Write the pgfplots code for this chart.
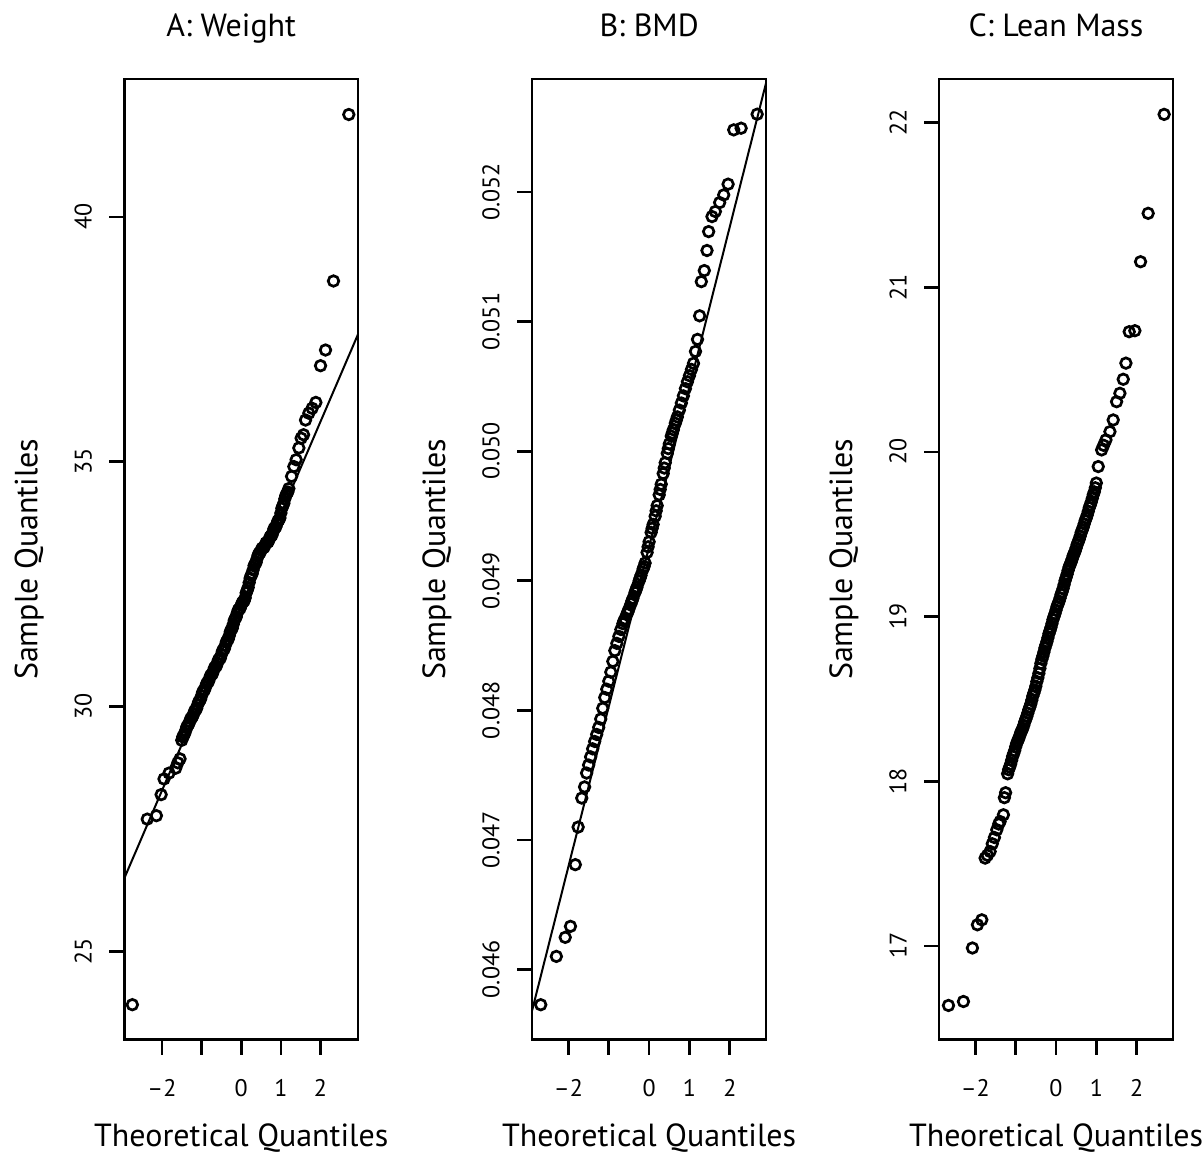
\documentclass[border=0pt]{standalone}
\usepackage{fontspec}
\setmainfont{PT Sans}
\usepackage{pgfplots}
\pgfplotsset{compat=1.18}
\pgfplotsset{qq/.style={
  scale only axis, width=117pt, height=480.5pt,
  axis line style={line width=1.3pt},
  every tick/.style={black, line width=1.3pt},
  major tick length=7.5pt, tick align=outside, tick pos=left,
  scaled y ticks=false, scaled x ticks=false,
  xtick={-2,-1,0,1,2}, xticklabels={–2,{},0,1,2},
  ticklabel style={font=\fontsize{12}{14}\selectfont, inner sep=0pt},
  xticklabel style={anchor=north},
  yticklabel style={rotate=90, anchor=south},
  xticklabel shift=12pt, yticklabel shift=8.5pt,
  label style={font=\fontsize{16}{19}\selectfont, inner sep=0pt},
  xlabel={Theoretical Quantiles}, ylabel={Sample Quantiles},
  xlabel style={at={(axis description cs:0.5,-0.1113)}, anchor=base},
  ylabel style={at={(axis description cs:-0.3718,0.5)}, anchor=base},
  title style={at={(axis description cs:0.5,1.0322)}, anchor=base, yshift=0pt, inner sep=0pt, font=\fontsize{16}{19}\selectfont},
  /pgf/number format/assume math mode=true,
  pts/.style={only marks, mark=o, mark size=2.65pt, mark options={line width=1.35pt, black}},
}}
\begin{document}
\begin{tikzpicture}
% ---------------- A: Weight
\begin{axis}[qq, at={(0pt,0pt)}, anchor=south west,
  xmin=-2.95, xmax=2.95, ymin=23.195, ymax=42.816,
  ytick={25,30,35,40}, yticklabels={25,30,35,40},
  title={A: Weight}, title style={at={(axis description cs:0.457,1.0322)}}]
\addplot[pts] coordinates {
(-2.746,23.91)(-2.37,27.70)(-2.14,27.77)(-2.02,28.20)(-1.947,28.52)(-1.821,28.64)(-1.652,28.74)(-1.60,28.85)(-1.544,28.93)
(-1.50,29.31)(-1.45,29.41)(-1.40,29.51)(-1.35,29.61)(-1.30,29.69)(-1.25,29.77)(-1.20,29.85)(-1.15,29.93)(-1.10,30.03)(-1.05,30.12)
(-1.00,30.22)(-0.95,30.32)(-0.90,30.40)(-0.85,30.49)(-0.80,30.57)(-0.75,30.65)(-0.70,30.73)(-0.65,30.81)(-0.60,30.89)(-0.55,30.97)
(-0.50,31.06)(-0.45,31.16)(-0.40,31.25)(-0.35,31.35)(-0.30,31.45)(-0.25,31.57)(-0.20,31.68)(-0.15,31.80)(-0.10,31.91)(-0.05,31.99)
(0.00,32.07)(0.05,32.14)(0.10,32.22)(0.15,32.37)(0.20,32.53)(0.25,32.68)(0.30,32.79)(0.35,32.91)(0.40,33.02)(0.45,33.13)
(0.50,33.19)(0.55,33.24)(0.60,33.29)(0.65,33.35)(0.70,33.40)(0.75,33.48)(0.80,33.56)(0.85,33.65)(0.90,33.73)(0.95,33.81)
(1.00,33.95)(1.05,34.10)(1.10,34.24)(1.15,34.35)(1.20,34.45)
(1.27,34.70)(1.327,34.90)(1.385,35.04)(1.453,35.28)(1.511,35.48)(1.572,35.55)(1.622,35.85)(1.705,35.99)(1.788,36.09)(1.882,36.21)
(2.00,36.96)(2.126,37.28)(2.327,38.69)(2.713,42.09)
};
\addplot[pts] coordinates {
(-1.475,29.38)(-1.425,29.45)(-1.375,29.58)(-1.325,29.64)(-1.275,29.75)(-1.225,29.80)(-1.175,29.91)(-1.125,29.96)(-1.075,30.09)
(-1.025,30.15)(-0.975,30.29)(-0.925,30.34)(-0.875,30.46)(-0.825,30.51)(-0.775,30.63)(-0.725,30.67)(-0.675,30.79)(-0.625,30.83)
(-0.575,30.95)(-0.525,30.99)(-0.475,31.13)(-0.425,31.18)(-0.375,31.32)(-0.325,31.38)(-0.275,31.53)(-0.225,31.60)(-0.175,31.76)
(-0.125,31.83)(-0.075,31.97)(-0.025,32.01)(0.025,32.12)(0.075,32.16)(0.125,32.32)(0.175,32.43)(0.225,32.62)(0.275,32.71)
(0.325,32.88)(0.375,32.94)(0.425,33.09)(0.475,33.14)(0.525,33.23)(0.575,33.25)(0.625,33.34)(0.675,33.36)(0.725,33.46)
(0.775,33.50)(0.825,33.63)(0.875,33.67)(0.925,33.79)(0.975,33.85)(1.025,34.05)(1.075,34.15)(1.125,34.31)(1.175,34.38)
};
\addplot[black, line width=1pt, no marks] coordinates {(-2.95,26.49)(2.95,37.61)};
\end{axis}
% ---------------- B: BMD
\begin{axis}[qq, at={(204pt,0pt)}, anchor=south west,
  xmin=-2.9, xmax=2.9, ymin=0.045458, ymax=0.052873,
  ytick={0.046,0.047,0.048,0.049,0.050,0.051,0.052},
  yticklabels={0.046,0.047,0.048,0.049,0.050,0.051,0.052},
  title={B: BMD}]
\addplot[pts] coordinates {
(-2.687,0.045728)(-2.30,0.046101)(-2.08,0.046248)(-1.95,0.046333)(-1.83,0.046809)(-1.76,0.047099)(-1.67,0.047323)
(-1.60,0.047409)(-1.55,0.047516)(-1.50,0.047578)(-1.45,0.047641)(-1.40,0.047703)(-1.35,0.047760)(-1.30,0.047814)(-1.25,0.047868)
(-1.20,0.047933)(-1.15,0.048016)(-1.10,0.048099)(-1.05,0.048163)(-1.00,0.048225)(-0.95,0.048295)(-0.90,0.048378)(-0.85,0.048461)
(-0.80,0.048517)(-0.75,0.048571)(-0.70,0.048624)(-0.65,0.048669)(-0.60,0.048706)(-0.55,0.048744)(-0.50,0.048782)(-0.45,0.048822)
(-0.40,0.048865)(-0.35,0.048909)(-0.30,0.048952)(-0.25,0.048997)(-0.20,0.049043)(-0.15,0.049090)(-0.10,0.049137)(-0.05,0.049219)
(0.00,0.049301)(0.05,0.049373)(0.10,0.049435)(0.15,0.049498)(0.20,0.049580)(0.25,0.049663)(0.30,0.049745)(0.35,0.049828)
(0.40,0.049911)(0.45,0.049983)(0.50,0.050056)(0.55,0.050116)(0.60,0.050166)(0.65,0.050216)(0.70,0.050265)(0.75,0.050317)
(0.80,0.050372)(0.85,0.050427)(0.90,0.050483)(0.95,0.050536)(1.00,0.050583)(1.05,0.050631)(1.10,0.050678)(1.15,0.050770)(1.20,0.050863)
(1.252,0.051045)(1.294,0.051309)(1.368,0.051394)(1.435,0.051549)(1.476,0.051695)(1.559,0.051811)(1.642,0.051850)(1.749,0.051919)
(1.849,0.051978)(1.958,0.052061)(2.098,0.052480)(2.281,0.052493)(2.679,0.052601)
};
\addplot[pts] coordinates {
(-0.625,0.048690)(-0.525,0.048760)(-0.425,0.048845)(-0.325,0.048930)(-0.225,0.049020)(-0.125,0.049110)(-0.025,0.049262)
(0.075,0.049405)(0.175,0.049540)(0.275,0.049705)(0.375,0.049870)(0.475,0.050020)(0.575,0.050140)(0.675,0.050240)
};
\addplot[black, line width=1pt, no marks] coordinates {(-2.9,0.045685)(2.9,0.052843)};
\end{axis}
% ---------------- C: Lean Mass
\begin{axis}[qq, at={(407.5pt,0pt)}, anchor=south west,
  xmin=-2.9, xmax=2.9, ymin=16.430, ymax=22.265,
  ytick={17,18,19,20,21,22}, yticklabels={17,18,19,20,21,22},
  title={C: Lean Mass}]
\addplot[pts] coordinates {
(-2.666,16.638)(-2.295,16.662)(-2.072,16.987)(-1.948,17.128)(-1.84,17.158)(-1.757,17.533)(-1.70,17.55)(-1.634,17.573)(-1.58,17.62)
(-1.527,17.658)(-1.468,17.705)(-1.42,17.74)(-1.386,17.755)(-1.304,17.796)(-1.28,17.90)(-1.25,17.93)
(-1.20,18.045)(-1.15,18.086)(-1.10,18.127)(-1.05,18.168)(-1.00,18.209)(-0.95,18.245)(-0.90,18.276)(-0.85,18.307)(-0.80,18.339)
(-0.75,18.376)(-0.70,18.413)(-0.65,18.450)(-0.60,18.492)(-0.55,18.535)(-0.50,18.577)(-0.45,18.628)(-0.40,18.685)(-0.35,18.741)
(-0.30,18.784)(-0.25,18.828)(-0.20,18.871)(-0.15,18.914)(-0.10,18.957)(-0.05,19.000)(0.00,19.039)(0.05,19.076)(0.10,19.112)
(0.15,19.150)(0.20,19.193)(0.25,19.237)(0.30,19.280)(0.35,19.316)(0.40,19.349)(0.45,19.383)(0.50,19.417)(0.55,19.453)(0.60,19.489)
(0.65,19.526)(0.70,19.563)(0.75,19.599)(0.80,19.639)(0.85,19.678)(0.90,19.718)(0.95,19.757)(1.00,19.811)
(1.047,19.911)(1.131,20.012)(1.18,20.04)(1.238,20.073)(1.337,20.123)(1.418,20.194)(1.502,20.305)(1.584,20.356)(1.667,20.441)
(1.733,20.539)(1.815,20.730)(1.955,20.736)(2.096,21.155)(2.285,21.449)(2.681,22.050)
};
\addplot[pts] coordinates {
(-1.175,18.070)(-1.125,18.104)(-1.075,18.151)(-1.025,18.186)(-0.975,18.230)(-0.925,18.258)(-0.875,18.295)(-0.825,18.321)
(-0.775,18.360)(-0.725,18.393)(-0.675,18.434)(-0.625,18.469)(-0.575,18.517)(-0.525,18.554)(-0.475,18.605)(-0.425,18.655)
(-0.375,18.716)(-0.325,18.761)(-0.275,18.809)(-0.225,18.848)(-0.175,18.896)(-0.125,18.934)(-0.075,18.982)(-0.025,19.018)
(0.025,19.061)(0.075,19.092)(0.125,19.134)(0.175,19.170)(0.225,19.218)(0.275,19.257)(0.325,19.301)(0.375,19.331)
(0.425,19.369)(0.475,19.398)(0.525,19.438)(0.575,19.469)(0.625,19.511)(0.675,19.543)(0.725,19.584)(0.775,19.617)
(0.825,19.662)(0.875,19.696)(0.925,19.741)(0.975,19.782)
};
\end{axis}
\path (-62.15pt,-56pt) rectangle (539.35pt,520pt);
\end{tikzpicture}
\end{document}
